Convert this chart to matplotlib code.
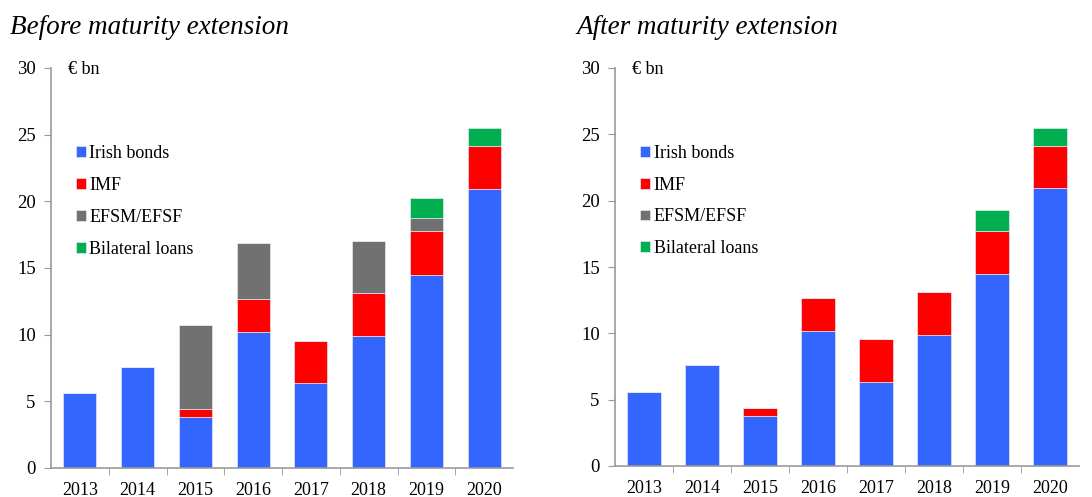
import numpy as np
import matplotlib
matplotlib.use("Agg")
import matplotlib.pyplot as plt

plt.rcParams['font.family'] = ['Liberation Serif', 'DejaVu Serif']

years = ['2013', '2014', '2015', '2016', '2017', '2018', '2019', '2020']
series = ['Irish bonds', 'IMF', 'EFSM/EFSF', 'Bilateral loans']
colors = ['#3366FF', '#FF0000', '#717171', '#00B050']

# before maturity extension
bonds = [5.6, 7.6, 3.8, 10.2, 6.35, 9.9, 14.5, 20.95]
imf = [0, 0, 0.6, 2.45, 3.2, 3.2, 3.25, 3.2]
efsm_before = [0, 0, 6.3, 4.25, 0, 3.95, 1.0, 0]
bilat_before = [0, 0, 0, 0, 0, 0, 1.5, 1.35]

# after maturity extension
efsm_after = [0, 0, 0, 0, 0, 0, 0, 0]
bilat_after = [0, 0, 0, 0, 0, 0, 1.55, 1.35]

panels = [
    ('Before maturity extension', [bonds, imf, efsm_before, bilat_before]),
    ('After maturity extension', [bonds, imf, efsm_after, bilat_after]),
]

fig = plt.figure(figsize=(10.92, 4.97), dpi=100)
rects = [[51/1092, 29/497, 462/1092, 400/497],
         [615/1092, 31/497, 464/1092, 398/497]]
title_x = [10/1092, 576/1092]
leg_x = [0.054, 0.054]

x = np.arange(len(years))
for k, (title, data) in enumerate(panels):
    ax = fig.add_axes(rects[k])
    bottom = np.zeros(len(years))
    for name, vals, col in zip(series, data, colors):
        vals = np.array(vals, dtype=float)
        ax.bar(x, vals, width=0.57, bottom=bottom, color=col, label=name,
               edgecolor='#e6e6f0', linewidth=0.5)
        bottom += vals
    ax.set_xlim(-0.5, 7.5)
    ax.set_ylim(0, 30)
    ax.set_yticks([0, 5, 10, 15, 20, 25, 30])
    ax.set_xticks(x)
    ax.set_xticklabels(years)
    ax.set_xticks(np.arange(0.5, 7, 1), minor=True)
    ax.tick_params(axis='x', which='major', length=0, pad=10, labelsize=13)
    ax.tick_params(axis='x', which='minor', length=5, direction='out', color='#999999')
    ax.tick_params(axis='y', length=5, direction='out', color='#999999', labelsize=13.5, pad=6)
    for s in ['top', 'right']:
        ax.spines[s].set_visible(False)
    for s in ['left', 'bottom']:
        ax.spines[s].set_color('#999999')
        ax.spines[s].set_linewidth(1.2)
    ax.text(0.037, 0.997, '€ bn', transform=ax.transAxes, fontsize=13, va='center', ha='left')
    ax.legend(loc='upper left', bbox_to_anchor=(leg_x[k], 0.807), frameon=False,
              fontsize=13, handlelength=0.55, handleheight=0.55, handletextpad=0.2,
              labelspacing=0.82, borderpad=0, borderaxespad=0)
    fig.text(title_x[k], 1 - 28/497, title, fontsize=19.5, style='italic', va='center', ha='left')

fig.savefig('out.png', dpi=100)
